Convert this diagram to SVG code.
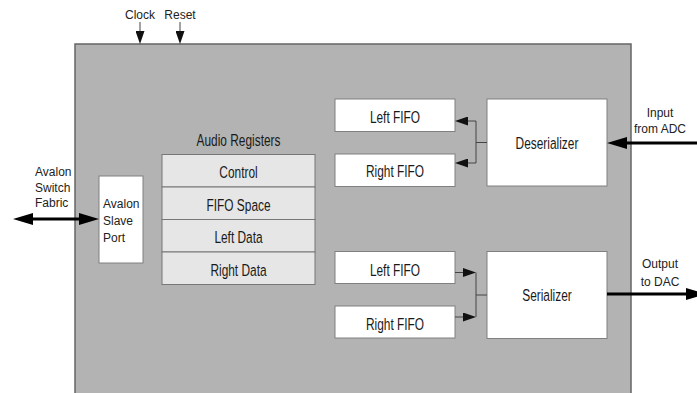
<svg xmlns="http://www.w3.org/2000/svg" width="697" height="393" viewBox="0 0 697 393">
<style>
.sm{font-family:"Liberation Sans",Arial,sans-serif;font-size:12px;fill:#222}
.lb{font-family:"Liberation Sans",Arial,sans-serif;font-size:17px;fill:#1a1a1a;text-anchor:middle}
.box{fill:#fff;stroke:#808080;stroke-width:1}
.reg{fill:#e6e6e6;stroke:#777;stroke-width:1}
.thin{stroke:#444;stroke-width:1;fill:none}
.thick{stroke:#000;stroke-width:3;fill:none}
</style>
<defs>
<marker id="ah" markerUnits="userSpaceOnUse" markerWidth="13" markerHeight="9" refX="0" refY="4.5" orient="auto"><path d="M0,0 L13,4.5 L0,9 Z" fill="#111"/></marker>
<marker id="ahb" markerUnits="userSpaceOnUse" markerWidth="20" markerHeight="12" refX="0" refY="6" orient="auto-start-reverse"><path d="M0,0 L20,6 L0,12 Z" fill="#000"/></marker>
</defs>

<g id="audio-core">
<rect x="75" y="44" width="556" height="360" fill="#b3b3b3" stroke="#666" stroke-width="1.5"/>
</g>

<g id="labels-ext">
<text class="sm" x="140" y="19" text-anchor="middle">Clock</text>
<text class="sm" x="180" y="19" text-anchor="middle">Reset</text>
<text class="sm" x="35" y="176">Avalon</text>
<text class="sm" x="35" y="191.5">Switch</text>
<text class="sm" x="35" y="207">Fabric</text>
<text class="sm" x="660" y="117" text-anchor="middle">Input</text>
<text class="sm" x="660" y="133" text-anchor="middle">from ADC</text>
<text class="sm" x="660" y="268" text-anchor="middle">Output</text>
<text class="sm" x="660" y="286" text-anchor="middle">to DAC</text>
</g>

<g id="avalon-slave-port">
<rect class="box" x="99" y="176" width="44" height="87"/>
<text class="sm" x="103" y="208">Avalon</text>
<text class="sm" x="103" y="225">Slave</text>
<text class="sm" x="103" y="241.5">Port</text>
</g>

<g id="audio-registers">
<text class="lb" transform="translate(238.5,146) scale(0.7,1)">Audio Registers</text>
<rect class="reg" x="162" y="154.5" width="153" height="32.5"/>
<rect class="reg" x="162" y="187" width="153" height="32.5"/>
<rect class="reg" x="162" y="219.5" width="153" height="32.5"/>
<rect class="reg" x="162" y="252" width="153" height="32.5"/>
<text class="lb" transform="translate(238.5,178) scale(0.7,1)">Control</text>
<text class="lb" transform="translate(238.5,210.5) scale(0.7,1)">FIFO Space</text>
<text class="lb" transform="translate(238.5,243) scale(0.7,1)">Left Data</text>
<text class="lb" transform="translate(238.5,276) scale(0.7,1)">Right Data</text>
</g>

<g id="in-left-fifo">
<rect class="box" x="335" y="99" width="120" height="32.5"/>
<text class="lb" transform="translate(395,123) scale(0.7,1)">Left FIFO</text>
</g>
<g id="in-right-fifo">
<rect class="box" x="335" y="154" width="120" height="32.5"/>
<text class="lb" transform="translate(395,177) scale(0.7,1)">Right FIFO</text>
</g>
<g id="deserializer">
<rect class="box" x="487" y="99" width="120" height="87"/>
<text class="lb" transform="translate(547,149) scale(0.7,1)">Deserializer</text>
</g>
<g id="out-left-fifo">
<rect class="box" x="335" y="251.5" width="120" height="32"/>
<text class="lb" transform="translate(395,276) scale(0.7,1)">Left FIFO</text>
</g>
<g id="out-right-fifo">
<rect class="box" x="335" y="306" width="120" height="32"/>
<text class="lb" transform="translate(395,330) scale(0.7,1)">Right FIFO</text>
</g>
<g id="serializer">
<rect class="box" x="487" y="251.5" width="120" height="87"/>
<text class="lb" transform="translate(547,301) scale(0.7,1)">Serializer</text>
</g>

<g id="connectors">
<line class="thin" x1="140" y1="22" x2="140" y2="31" marker-end="url(#ah)"/>
<line class="thin" x1="180" y1="22" x2="180" y2="31" marker-end="url(#ah)"/>
<line class="thick" x1="33" y1="219" x2="79" y2="219" marker-start="url(#ahb)" marker-end="url(#ahb)"/>
<line class="thick" x1="697" y1="143" x2="627" y2="143" marker-end="url(#ahb)"/>
<line class="thick" x1="607" y1="294" x2="686" y2="294" marker-end="url(#ahb)"/>
<path class="thin" d="M487,142.5 H476 M476,121 V163"/>
<line class="thin" x1="476" y1="121" x2="468" y2="121" marker-end="url(#ah)"/>
<line class="thin" x1="476" y1="163" x2="468" y2="163" marker-end="url(#ah)"/>
<line class="thin" x1="455" y1="272.5" x2="463" y2="272.5" marker-end="url(#ah)"/>
<line class="thin" x1="455" y1="317" x2="463" y2="317" marker-end="url(#ah)"/>
<path class="thin" d="M476,272.5 V317 M476,295 H487"/>
</g>
</svg>
